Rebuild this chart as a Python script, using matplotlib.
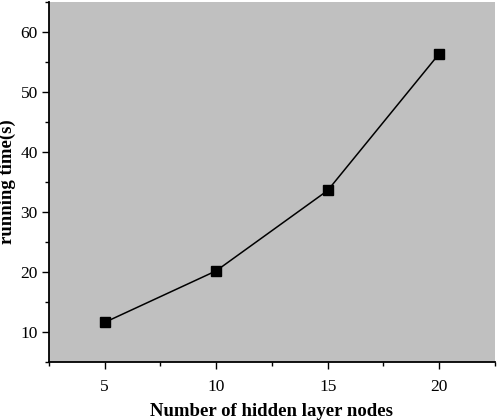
import matplotlib.pyplot as plt
from matplotlib.ticker import MultipleLocator

nodes = [5, 10, 15, 20]
run_time = [11.6, 20.2, 33.6, 56.4]

plt.rcParams['font.family'] = ['Liberation Serif', 'DejaVu Serif']

fig = plt.figure(figsize=(4.98, 4.2), dpi=100)
ax = fig.add_axes([0.098, 0.138, 0.896, 0.857])
ax.set_facecolor('#c0c0c0')

ax.plot(nodes, run_time, color='black', linewidth=1.1, marker='s', markersize=6.5)

ax.set_xlim(2.5, 22.5)
ax.set_ylim(5, 65)
ax.xaxis.set_major_locator(MultipleLocator(5))
ax.xaxis.set_minor_locator(MultipleLocator(2.5))
ax.yaxis.set_major_locator(MultipleLocator(10))
ax.yaxis.set_minor_locator(MultipleLocator(5))
ax.tick_params(which='major', direction='out', length=5, width=1, labelsize=12.5, colors='black')
ax.tick_params(which='minor', direction='out', length=3, width=1)
ax.tick_params(axis='x', pad=7)
ax.tick_params(axis='y', pad=3)

for s in ['top', 'right']:
    ax.spines[s].set_visible(False)
for s in ['left', 'bottom']:
    ax.spines[s].set_linewidth(1.3)

ax.set_xlabel('Number of hidden layer nodes', fontsize=13.5, fontweight='bold', labelpad=6)
ax.set_ylabel('running time(s)', fontsize=13.5, fontweight='bold', labelpad=3)

fig.savefig('out.png', dpi=100)
